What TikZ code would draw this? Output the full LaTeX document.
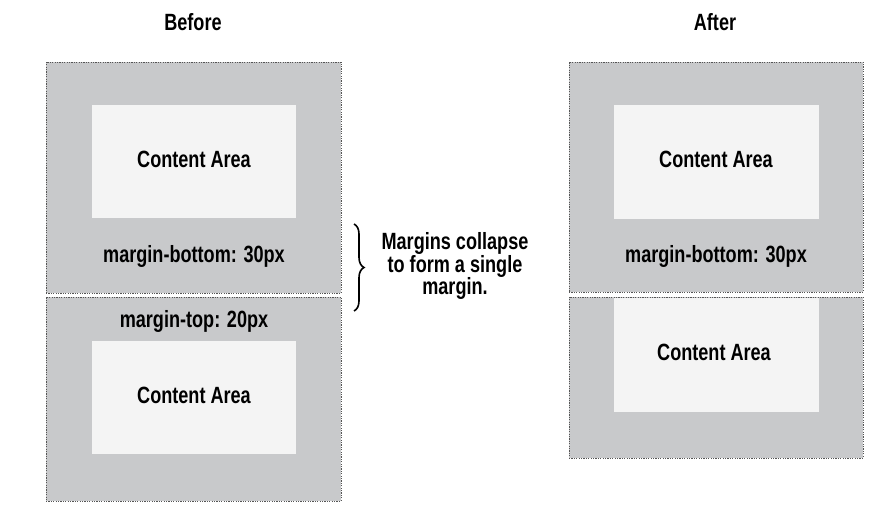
\documentclass[tikz,border=0pt]{standalone}
\usepackage{fontspec}
\setmainfont[FakeStretch=0.77]{Liberation Sans}
\usetikzlibrary{decorations.pathreplacing}
\definecolor{margingray}{HTML}{C8C9CB}
\definecolor{contentfill}{HTML}{F4F4F4}
\definecolor{borderdots}{HTML}{555555}
\tikzset{
  outerbox/.style={rectangle, fill=margingray, draw=borderdots, line width=0.9pt, dash pattern=on 1.2pt off 1.2pt, inner sep=0pt, outer sep=0pt},
  contentbox/.style={rectangle, fill=contentfill, draw=none, inner sep=0pt, outer sep=0pt},
  lbl/.style={font=\fontsize{23.5}{23.5}\selectfont\bfseries, text=black, inner sep=0pt},
  brc/.style={decorate, decoration={brace, amplitude=10pt}, line width=1.6pt, black}
}
\begin{document}
\begin{tikzpicture}[x=1pt,y=-1pt]
\useasboundingbox (0,0) rectangle (894,516);
% titles
\node[lbl] (tb) at (193,22) {Before};
\node[lbl] (ta) at (715,22) {After};
% Before
\node[outerbox, minimum width=295pt, minimum height=231pt] (lb1) at (193.5,177.5) {};
\node[outerbox, minimum width=295pt, minimum height=204pt] (lb2) at (193.5,399) {};
\node[contentbox, minimum width=204pt, minimum height=113pt] (lc1) at (194,161.5) {};
\node[contentbox, minimum width=204pt, minimum height=113pt] (lc2) at (194,397.5) {};
\node[lbl] (lt1) at (194,159) {Content Area};
\node[lbl] (lm1) at (194,256) {margin-bottom: 30px};
\node[lbl] (lm2) at (194,321) {margin-top: 20px};
\node[lbl] (lt2) at (194,395) {Content Area};
% brace and note
\coordinate (bt) at (354,224);
\coordinate (bb) at (354,311);
\draw[brc] (bt) -- (bb);
\node[lbl, align=center, font=\fontsize{23.5}{22.5}\selectfont\bfseries] (note) at (455,266) {Margins collapse\\to form a single\\margin.};
% After
\node[outerbox, minimum width=294pt, minimum height=230pt] (rb1) at (716,177) {};
\node[outerbox, minimum width=294pt, minimum height=161pt] (rb2) at (716,377.5) {};
\node[contentbox, minimum width=205pt, minimum height=114pt] (rc1) at (716.5,162) {};
\node[contentbox, minimum width=205pt, minimum height=114pt] (rc2) at (716.5,355) {};
\node[lbl] (rt1) at (716,159) {Content Area};
\node[lbl] (rm1) at (716,256) {margin-bottom: 30px};
\node[lbl] (rt2) at (714,352) {Content Area};
\end{tikzpicture}
\end{document}
